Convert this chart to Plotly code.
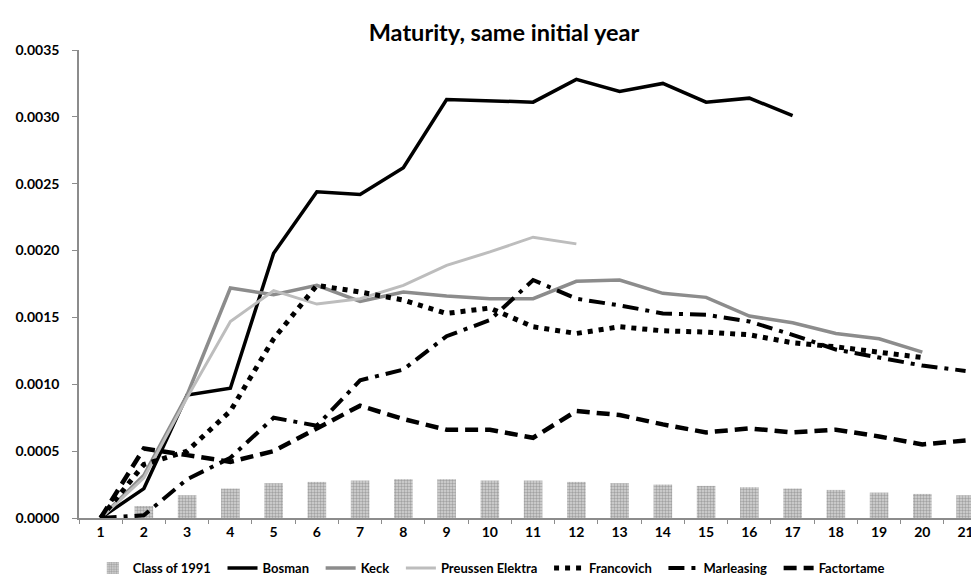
import plotly.graph_objects as go

years = list(range(1, 22))
tick_labels = [str(y) for y in years]

class_1991 = [0.0, 0.00009, 0.00017, 0.00022, 0.00026, 0.00027, 0.00028, 0.00029, 0.00029, 0.00028, 0.00028,
              0.00027, 0.00026, 0.00025, 0.00024, 0.00023, 0.00022, 0.00021, 0.00019, 0.00018, 0.00017]
bosman = [0.0, 0.00022, 0.00092, 0.00097, 0.00198, 0.00244, 0.00242, 0.00262, 0.00313, 0.00312, 0.00311,
          0.00328, 0.00319, 0.00325, 0.00311, 0.00314, 0.00301]
keck = [0.0, 0.00032, 0.00092, 0.00172, 0.00167, 0.00174, 0.00162, 0.00169, 0.00166, 0.00164, 0.00164,
        0.00177, 0.00178, 0.00168, 0.00165, 0.00151, 0.00146, 0.00138, 0.00134, 0.00124]
preussen = [0.0, 0.00030, 0.00090, 0.00147, 0.00170, 0.00160, 0.00164, 0.00174, 0.00189, 0.00199, 0.00210, 0.00205]
francovich = [0.0, 0.00040, 0.00050, 0.00080, 0.00134, 0.00174, 0.00169, 0.00163, 0.00153, 0.00157, 0.00143,
              0.00138, 0.00143, 0.00140, 0.00139, 0.00137, 0.00131, 0.00128, 0.00124, 0.00120]
marleasing = [0.0, 0.00002, 0.00029, 0.00045, 0.00075, 0.00069, 0.00103, 0.00111, 0.00136, 0.00148, 0.00178,
              0.00164, 0.00159, 0.00153, 0.00152, 0.00147, 0.00137, 0.00126, 0.00120, 0.00114, 0.00110]
factortame = [0.0, 0.00052, 0.00047, 0.00042, 0.00050, 0.00067, 0.00084, 0.00074, 0.00066, 0.00066, 0.00060,
              0.00080, 0.00077, 0.00070, 0.00064, 0.00067, 0.00064, 0.00066, 0.00061, 0.00055, 0.00058]

FONT = "Lato"
PAD = "\u00a0\u00a0"

fig = go.Figure()
fig.add_trace(go.Bar(
    x=years, y=class_1991, name=f"<b>Class of 1991</b>{PAD}", width=0.43,
    marker=dict(color="#c4c4c4", line=dict(width=0),
                pattern=dict(shape=".", fgcolor="#6e6e6e", bgcolor="#d6d6d6", size=3, solidity=0.5)),
))

def add_line(vals, name, color, width, dash):
    fig.add_trace(go.Scatter(
        x=years[:len(vals)], y=vals, name=f"<b>{name}</b>{PAD}", mode="lines",
        line=dict(color=color, width=width, dash=dash),
    ))

add_line(bosman, "Bosman", "#000000", 3.5, "solid")
add_line(keck, "Keck", "#8c8c8c", 3.5, "solid")
add_line(preussen, "Preussen Elektra", "#bdbdbd", 3, "solid")
add_line(francovich, "Francovich", "#000000", 5, "5px,6px")
add_line(marleasing, "Marleasing", "#000000", 4, "16px,7px,4px,7px")
add_line(factortame, "Factortame", "#000000", 4.5, "13px,7px")

W, H = 971, 574
fig.update_layout(
    width=W, height=H,
    margin=dict(l=71, r=0, t=42, b=H - 510, autoexpand=False),
    paper_bgcolor="white", plot_bgcolor="white",
    title=dict(text="<b>Maturity, same initial year</b>", x=496 / W, xanchor="center",
               y=1 - 25 / H, yanchor="middle", font=dict(family=FONT, size=23.5, color="#000000")),
    font=dict(family=FONT, color="#000000"),
    showlegend=True,
    legend=dict(orientation="h", x=0.462, xanchor="center", y=-0.107, yanchor="middle",
                font=dict(family=FONT, size=13, color="#000000"), traceorder="normal",
                itemwidth=30, bgcolor="rgba(0,0,0,0)"),
    bargap=0.5,
)
fig.update_xaxes(
    range=[0.5, 21.31], tickmode="array", tickvals=years, ticktext=[f"<b>{t}</b>" for t in tick_labels],
    ticks="", showgrid=False, zeroline=False, automargin=False,
    showline=True, linecolor="#8c8c8c", linewidth=1.5,
    tickfont=dict(family=FONT, size=14, color="#000000"),
    minor=dict(tickmode="linear", tick0=0.5, dtick=1, ticks="outside", ticklen=4, tickcolor="#8c8c8c", tickwidth=1),
)
fig.update_yaxes(
    range=[0, 0.0035], tickmode="array",
    tickvals=[0, 0.0005, 0.001, 0.0015, 0.002, 0.0025, 0.003, 0.0035],
    ticktext=["<b>0.0000</b>", "<b>0.0005</b>", "<b>0.0010</b>", "<b>0.0015</b>", "<b>0.0020</b>",
              "<b>0.0025</b>", "<b>0.0030</b>", "<b>0.0035</b>"],
    ticks="outside", ticklen=5, tickcolor="#8c8c8c", showgrid=False, zeroline=False, automargin=False,
    showline=True, linecolor="#8c8c8c", linewidth=1.5,
    tickfont=dict(family=FONT, size=14, color="#000000"), ticklabelstandoff=10,
)

fig.write_html("out.html")
